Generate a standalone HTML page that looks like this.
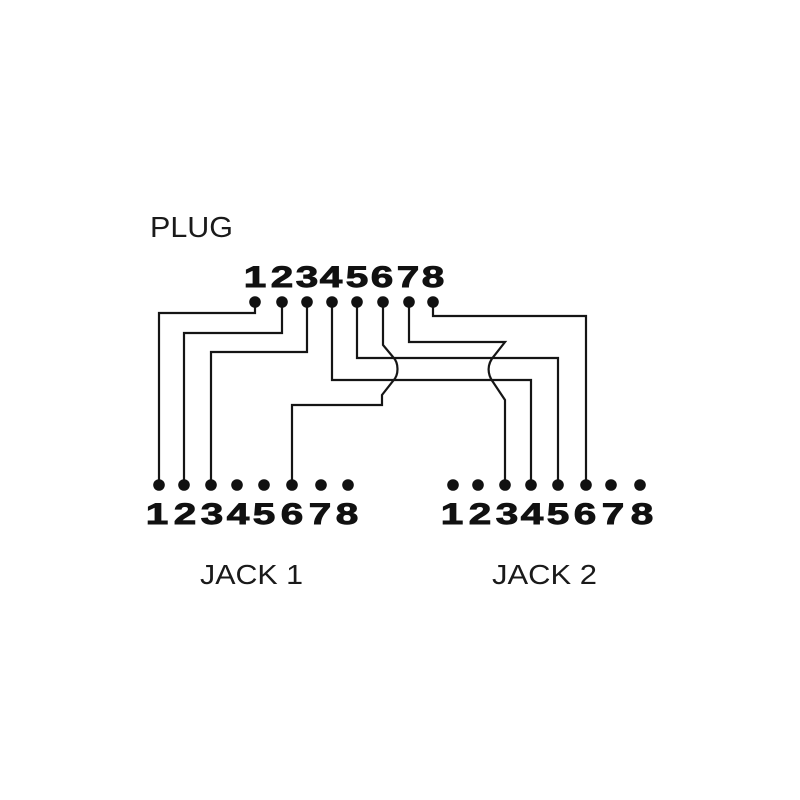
<!DOCTYPE html>
<html>
<head>
<meta charset="utf-8">
<style>
  html,body{margin:0;padding:0;background:#fff;}
  svg{display:block;}
  .lbl{font-family:"Liberation Sans",sans-serif;fill:#1a1a1a;}
  .dg{font-family:"Liberation Sans",sans-serif;font-weight:bold;font-size:30px;fill:#111;stroke:#111;stroke-width:0.9;text-anchor:middle;}
  .w{fill:none;stroke:#151515;stroke-width:2.2;stroke-linejoin:miter;}
</style>
</head>
<body>
<svg width="800" height="800" viewBox="0 0 800 800" xmlns="http://www.w3.org/2000/svg">
  <rect width="800" height="800" fill="#fff"/>

  <!-- labels -->
  <text class="lbl" x="150" y="237" font-size="29" textLength="83" lengthAdjust="spacingAndGlyphs">PLUG</text>
  <text class="lbl" x="200" y="584" font-size="28" textLength="103" lengthAdjust="spacingAndGlyphs">JACK 1</text>
  <text class="lbl" x="492" y="584" font-size="28" textLength="105" lengthAdjust="spacingAndGlyphs">JACK 2</text>

  <!-- plug digits -->
  <g>
    <text class="dg" transform="translate(255,287) scale(1.35,1)">1</text>
    <text class="dg" transform="translate(282,287) scale(1.35,1)">2</text>
    <text class="dg" transform="translate(307,287) scale(1.35,1)">3</text>
    <text class="dg" transform="translate(331,287) scale(1.35,1)">4</text>
    <text class="dg" transform="translate(357,287) scale(1.35,1)">5</text>
    <text class="dg" transform="translate(382,287) scale(1.35,1)">6</text>
    <text class="dg" transform="translate(408,287) scale(1.35,1)">7</text>
    <text class="dg" transform="translate(433,287) scale(1.35,1)">8</text>
  </g>

  <!-- jack 1 digits -->
  <g>
    <text class="dg" transform="translate(157,524) scale(1.35,1)">1</text>
    <text class="dg" transform="translate(185,524) scale(1.35,1)">2</text>
    <text class="dg" transform="translate(212,524) scale(1.35,1)">3</text>
    <text class="dg" transform="translate(238,524) scale(1.35,1)">4</text>
    <text class="dg" transform="translate(264,524) scale(1.35,1)">5</text>
    <text class="dg" transform="translate(292,524) scale(1.35,1)">6</text>
    <text class="dg" transform="translate(320,524) scale(1.35,1)">7</text>
    <text class="dg" transform="translate(347,524) scale(1.35,1)">8</text>
  </g>

  <!-- jack 2 digits -->
  <g>
    <text class="dg" transform="translate(452,524) scale(1.35,1)">1</text>
    <text class="dg" transform="translate(480,524) scale(1.35,1)">2</text>
    <text class="dg" transform="translate(507,524) scale(1.35,1)">3</text>
    <text class="dg" transform="translate(532,524) scale(1.35,1)">4</text>
    <text class="dg" transform="translate(558,524) scale(1.35,1)">5</text>
    <text class="dg" transform="translate(585,524) scale(1.35,1)">6</text>
    <text class="dg" transform="translate(613,524) scale(1.35,1)">7</text>
    <text class="dg" transform="translate(642,524) scale(1.35,1)">8</text>
  </g>

  <!-- wires -->
  <path class="w" d="M255,302 V313 H159 V485"/>
  <path class="w" d="M282,302 V333 H184 V485"/>
  <path class="w" d="M307,302 V352 H211 V485"/>
  <path class="w" d="M332,302 V380 H531 V485"/>
  <path class="w" d="M357,302 V358 H558 V485"/>
  <path class="w" d="M383,302 V345 L393,357 C399,363 399,375 393,381 L382,395 V405 H292 V485"/>
  <path class="w" d="M409,302 V342 H505 L494,356 C487,364 487,374 493,382 L505,400 V485"/>
  <path class="w" d="M433,302 V316 H586 V485"/>

  <!-- plug dots -->
  <g fill="#111">
    <circle cx="255" cy="302" r="5.8"/>
    <circle cx="282" cy="302" r="5.8"/>
    <circle cx="307" cy="302" r="5.8"/>
    <circle cx="332" cy="302" r="5.8"/>
    <circle cx="357" cy="302" r="5.8"/>
    <circle cx="383" cy="302" r="5.8"/>
    <circle cx="409" cy="302" r="5.8"/>
    <circle cx="433" cy="302" r="5.8"/>
  </g>

  <!-- jack 1 dots -->
  <g fill="#111">
    <circle cx="159" cy="485" r="5.8"/>
    <circle cx="184" cy="485" r="5.8"/>
    <circle cx="211" cy="485" r="5.8"/>
    <circle cx="237" cy="485" r="5.8"/>
    <circle cx="264" cy="485" r="5.8"/>
    <circle cx="292" cy="485" r="5.8"/>
    <circle cx="321" cy="485" r="5.8"/>
    <circle cx="348" cy="485" r="5.8"/>
  </g>

  <!-- jack 2 dots -->
  <g fill="#111">
    <circle cx="453" cy="485" r="5.8"/>
    <circle cx="478" cy="485" r="5.8"/>
    <circle cx="505" cy="485" r="5.8"/>
    <circle cx="531" cy="485" r="5.8"/>
    <circle cx="558" cy="485" r="5.8"/>
    <circle cx="586" cy="485" r="5.8"/>
    <circle cx="611" cy="485" r="5.8"/>
    <circle cx="640" cy="485" r="5.8"/>
  </g>
</svg>
</body>
</html>
